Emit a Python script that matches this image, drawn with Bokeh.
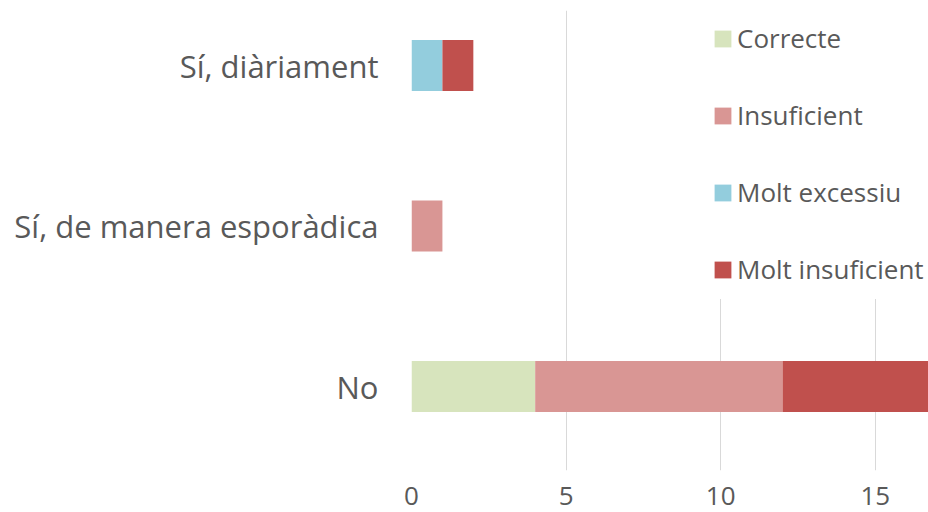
from bokeh.plotting import figure
from bokeh.models import ColumnDataSource, Range1d, FixedTicker, Legend
from bokeh.embed import file_html
from bokeh.resources import INLINE

# Data (bottom to top)
categories = ["No", "Sí, de manera esporàdica", "Sí, diàriament"]
series_names = ["Correcte", "Insuficient", "Molt excessiu", "Molt insuficient"]
correcte = [4, 0, 0]
insuficient = [8, 1, 0]
molt_excessiu = [0, 0, 1]
molt_insuficient = [5, 0, 1]
x_ticks = [0, 5, 10, 15]

colors = ["#d7e4bd", "#d99694", "#93cddd", "#c0504d"]
keys = ["correcte", "insuficient", "molt_excessiu", "molt_insuficient"]

ypos = list(range(len(categories)))
source = ColumnDataSource(dict(
    y=ypos,
    correcte=correcte,
    insuficient=insuficient,
    molt_excessiu=molt_excessiu,
    molt_insuficient=molt_insuficient,
))

TEXT = "#595959"
FONT = "Open Sans"

p = figure(width=928, height=512, output_backend="svg", toolbar_location=None,
           x_range=Range1d(0, 16.72), y_range=Range1d(-0.523, 2.343),
           min_border_left=411, min_border_right=0, min_border_top=10,
           min_border_bottom=42)

renderers = p.hbar_stack(keys, y="y", height=0.317, color=colors,
                         line_color=None, source=source)

p.outline_line_color = None
p.background_fill_color = "white"
p.border_fill_color = "white"

p.ygrid.grid_line_color = None
p.xgrid.grid_line_color = "#d9d9d9"
p.xgrid.grid_line_width = 1
p.xgrid.ticker = FixedTicker(ticks=x_ticks)

p.xaxis.ticker = FixedTicker(ticks=x_ticks)
p.xaxis.axis_line_color = None
p.xaxis.major_tick_line_color = None
p.xaxis.minor_tick_line_color = None
p.xaxis.major_label_text_color = TEXT
p.xaxis.major_label_text_font = FONT
p.xaxis.major_label_text_font_size = "26px"
p.xaxis.major_label_standoff = 10

p.yaxis.ticker = FixedTicker(ticks=ypos)
p.yaxis.major_label_overrides = {i: c for i, c in enumerate(categories)}
p.yaxis.axis_line_color = None
p.yaxis.major_tick_line_color = None
p.yaxis.minor_tick_line_color = None
p.yaxis.major_label_text_color = TEXT
p.yaxis.major_label_text_font = FONT
p.yaxis.major_label_text_font_size = "31px"
p.yaxis.major_label_standoff = 27

legend = Legend(items=[(n, [r]) for n, r in zip(series_names, renderers)],
                location=(301, 171), orientation="vertical",
                background_fill_color="white", background_fill_alpha=1.0,
                border_line_color=None, padding=0, margin=0,
                glyph_width=21, glyph_height=21, label_height=60,
                spacing=17, label_standoff=4,
                label_text_font=FONT, label_text_font_size="26px",
                label_text_color=TEXT)
p.add_layout(legend, "center")

open("out.html", "w").write(file_html(p, INLINE))
